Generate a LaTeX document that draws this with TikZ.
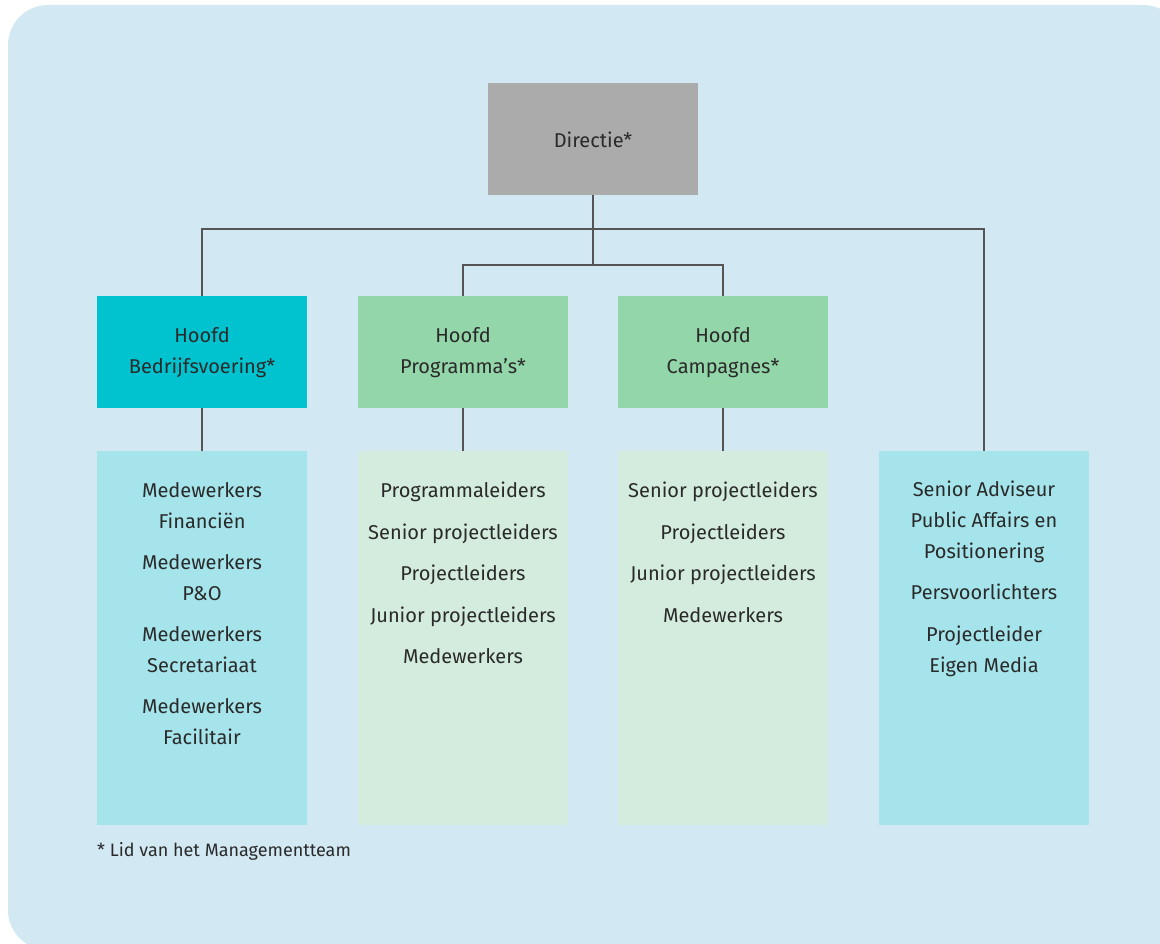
\documentclass[tikz,border=0pt]{standalone}
\usepackage{fontspec}
\setmainfont{Fira Sans}
\usetikzlibrary{positioning}

\definecolor{achtergrond}{HTML}{D2E9F3}
\definecolor{grijs}{HTML}{ABABAB}
\definecolor{turkoois}{HTML}{00C3CF}
\definecolor{groen}{HTML}{93D6A9}
\definecolor{lichtturkoois}{HTML}{A4E4EA}
\definecolor{lichtgroen}{HTML}{D3ECDD}
\definecolor{lijn}{HTML}{555555}
\definecolor{tekst}{HTML}{2A2A2A}

\begin{document}
\begin{tikzpicture}[x=1pt,y=-1pt,
    box/.style={rectangle, minimum width=210pt, minimum height=112pt, inner sep=0pt},
    lijst/.style={rectangle, minimum width=210pt, minimum height=374pt, inner sep=0pt},
    item/.style={anchor=base, align=center, inner sep=0pt, text=tekst,
                 font=\fontsize{20}{31}\selectfont},
    verbinding/.style={draw=lijn, line width=2pt}]
            \clip (0,0) rectangle (1160,944);
            \fill[achtergrond, rounded corners=40pt] (8,5) rectangle (1183,950);

            % Nodes
            \node[box, fill=grijs] (dir) at (593,139) {};
            \node[box, fill=turkoois] (hb) at (202,352) {};
            \node[box, fill=groen] (hp) at (463,352) {};
            \node[box, fill=groen] (hc) at (723,352) {};
            \node[lijst, fill=lichtturkoois] (lb) at (202,638) {};
            \node[lijst, fill=lichtgroen] (lp) at (463,638) {};
            \node[lijst, fill=lichtgroen] (lc) at (723,638) {};
            \node[lijst, fill=lichtturkoois] (ls) at (984,638) {};
            \coordinate (j1) at (593,229);
            \coordinate (j2) at (593,265);

            % Teksten (basislijn van de laatste regel)
            \node[item] (tdir) at (593,148) {Directie*};
            \node[item] (thb) at (202,373) {Hoofd\\Bedrijfsvoering*};
            \node[item] (thp) at (463,373) {Hoofd\\Programma's*};
            \node[item] (thc) at (723,373) {Hoofd\\Campagnes*};

            \node[item] (fin) at (202,528) {Medewerkers\\Financiën};
            \node[item] (po) at (202,600) {Medewerkers\\P\&O};
            \node[item] (sec) at (202,672) {Medewerkers\\Secretariaat};
            \node[item] (fac) at (202,744) {Medewerkers\\Facilitair};

            \node[item] (pl) at (463,497) {Programmaleiders};
            \node[item] (psp) at (463,539) {Senior projectleiders};
            \node[item] (ppr) at (463,580) {Projectleiders};
            \node[item] (pjp) at (463,622) {Junior projectleiders};
            \node[item] (pmw) at (463,663) {Medewerkers};

            \node[item] (csp) at (723,497) {Senior projectleiders};
            \node[item] (cpr) at (723,539) {Projectleiders};
            \node[item] (cjp) at (723,580) {Junior projectleiders};
            \node[item] (cmw) at (723,622) {Medewerkers};

            \node[item] (sa) at (984,558) {Senior Adviseur\\Public Affairs en\\Positionering};
            \node[item] (pv) at (984,599) {Persvoorlichters};
            \node[item] (em) at (984,672) {Projectleider\\Eigen Media};

            \node[item, anchor=base west, font=\fontsize{18}{22}\selectfont] (voet) at (97,856) {* Lid van het Managementteam};

            % Lijnen
            \draw[verbinding] (dir.south) -- (j1) -- (j2);
            \draw[verbinding] (j1) -| (hb.north);
            \draw[verbinding] (j1) -| (ls.north);
            \draw[verbinding] (j2) -| (hp.north);
            \draw[verbinding] (j2) -| (hc.north);
            \draw[verbinding] (hb) -- (lb);
            \draw[verbinding] (hp) -- (lp);
            \draw[verbinding] (hc) -- (lc);
          \end{tikzpicture}
\end{document}
